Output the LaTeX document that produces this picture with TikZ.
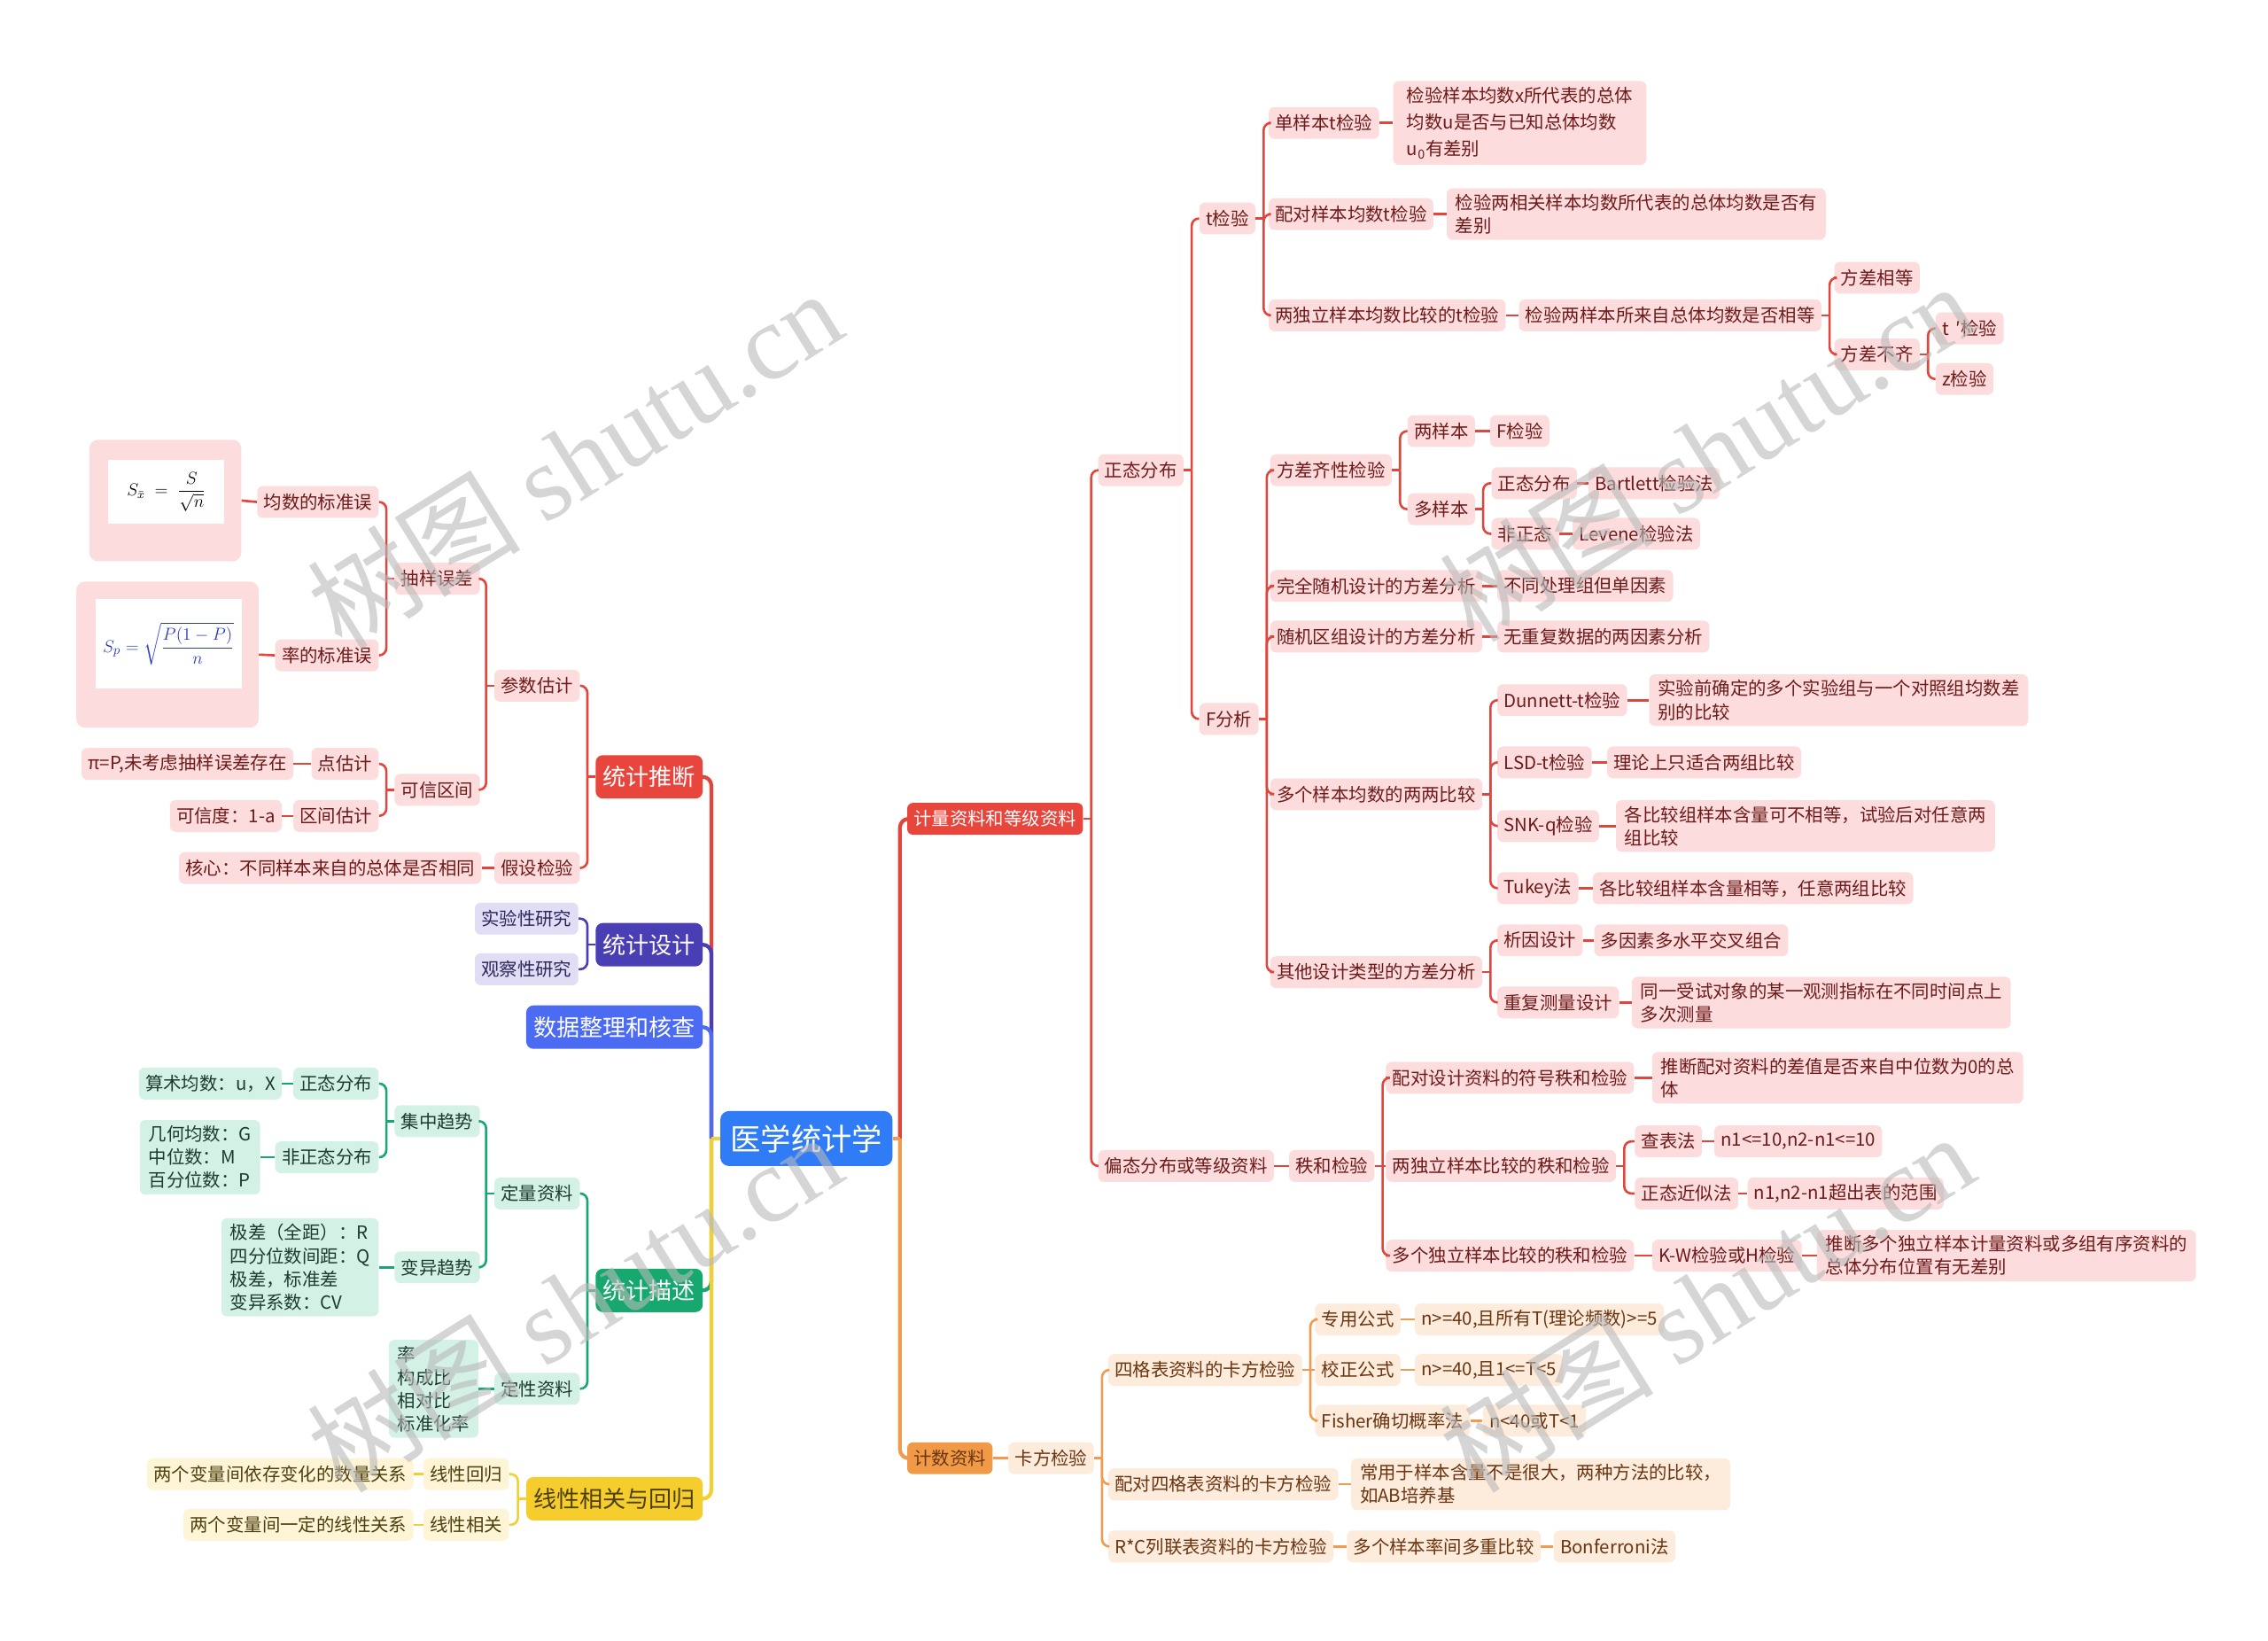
\documentclass[tikz,border=0pt]{standalone}
\usepackage{amsmath}
\usepackage{fontspec}
\setmainfont{Noto Sans CJK SC}
\newfontfamily\wmlat{Liberation Serif}
\definecolor{rootb}{HTML}{2F7CF6}
\definecolor{redl}{HTML}{E2453C}
\definecolor{redf}{HTML}{E8463D}
\definecolor{pinkf}{HTML}{FCDCDC}
\definecolor{redt}{HTML}{6E1A1A}
\definecolor{orl}{HTML}{EF9C50}
\definecolor{orf}{HTML}{F09A48}
\definecolor{orlf}{HTML}{FDEBDC}
\definecolor{ort}{HTML}{6A3510}
\definecolor{grl}{HTML}{18A774}
\definecolor{grf}{HTML}{16A86E}
\definecolor{grlf}{HTML}{D3F2E5}
\definecolor{grt}{HTML}{1D3B30}
\definecolor{yll}{HTML}{F2CF33}
\definecolor{ylf}{HTML}{F5CE2E}
\definecolor{yllf}{HTML}{FDF5D5}
\definecolor{ylt}{HTML}{4D3E0E}
\definecolor{vil}{HTML}{4A3EB4}
\definecolor{vilf}{HTML}{E0DDF5}
\definecolor{vit}{HTML}{2B275A}
\definecolor{bll}{HTML}{4B6BF2}
\definecolor{fblue}{HTML}{2A3BC4}
\tikzset{
  nbase/.style={rounded corners=4pt, inner xsep=4.5pt, inner ysep=2pt, minimum height=22pt, font=\fontsize{12.5}{16}\selectfont, align=left},
  multi/.style={inner xsep=6pt, inner ysep=4pt},
  rnode/.style={nbase, fill=pinkf, text=redt},
  onode/.style={nbase, fill=orlf, text=ort},
  gnode/.style={nbase, fill=grlf, text=grt},
  ynode/.style={nbase, fill=yllf, text=ylt},
  vnode/.style={nbase, fill=vilf, text=vit},
  lone/.style={rounded corners=5pt, inner xsep=5pt, minimum height=30pt, font=\fontsize{16}{19}\selectfont},
  rootnode/.style={rounded corners=6pt, inner xsep=7pt, minimum height=38pt, fill=rootb, text=white, font=\fontsize{21}{25}\selectfont},
  aw/.style={anchor=west},
  ae/.style={anchor=east},
  rline/.style={draw=redl, line width=1.6pt},
  oline/.style={draw=orl, line width=1.6pt},
  gline/.style={draw=grl, line width=1.6pt},
  yline/.style={draw=yll, line width=1.6pt},
  vline/.style={draw=vil, line width=1.6pt},
  bline/.style={draw=bll, line width=1.6pt},
  thickc/.style={line width=2.6pt},
  wmark/.style={rotate=32, text=gray!55, opacity=0.6, font=\fontsize{74}{74}\selectfont},
}
\newcommand\linkR[3]{%
  \coordinate (#2-s) at ([xshift=5.5pt]#2.east);
  \draw[#1] (#2.east) -- (#2-s);
  \foreach \c in {#3}{\draw[#1,rounded corners=5pt] (#2-s) |- (\c.west);}%
}
\newcommand\linkL[3]{%
  \coordinate (#2-s) at ([xshift=-5.5pt]#2.west);
  \draw[#1] (#2.west) -- (#2-s);
  \foreach \c in {#3}{\draw[#1,rounded corners=5pt] (#2-s) |- (\c.east);}%
}
\newcommand\linkS[3]{\draw[#1] (#2.east) -- (#3.west);}
\newcommand\linkSL[3]{\draw[#1] (#2.west) -- (#3.east);}
\begin{document}
\begin{tikzpicture}[x=1pt,y=-1pt]
\fill[white] (0,0) rectangle (1568,1134);
\useasboundingbox (0,0) rectangle (1568,1134);

% ---------- root ----------
\node[rootnode] (root) at (557.5,787) {医学统计学};

% ---------- right side ----------
\node[nbase, fill=redf, text=white, aw] (jl) at (627,566) {计量资料和等级资料};
\node[nbase, fill=orf, text=ort, aw] (js) at (627,1008) {计数资料};
\node[rnode,aw] (zt) at (759,325) {正态分布};
\node[rnode,aw] (pt) at (759,806) {偏态分布或等级资料};
\node[rnode,aw] (tj) at (829,151) {t检验};
\node[rnode,aw] (fa) at (829,497) {F分析};
\node[rnode,aw] (t1) at (877,85) {单样本t检验};
\node[rnode,multi,aw,minimum width=175pt,font=\fontsize{12.5}{18.5}\selectfont] (t1d) at (963,85) {检验样本均数x所代表的总体\\均数u是否与已知总体均数\\u\textsubscript{0}有差别};
\node[rnode,aw] (t2) at (877,148) {配对样本均数t检验};
\node[rnode,multi,aw,minimum width=257pt] (t2d) at (1000,148) {检验两相关样本均数所代表的总体均数是否有\\差别};
\node[rnode,aw] (t3) at (877,218) {两独立样本均数比较的t检验};
\node[rnode,aw] (t3d) at (1050,218) {检验两样本所来自总体均数是否相等};
\node[rnode,aw] (fc1) at (1268,192) {方差相等};
\node[rnode,aw] (fc2) at (1268,245) {方差不齐};
\node[rnode,aw] (tp) at (1338,227) {t \,′检验};
\node[rnode,aw] (zj) at (1338,262) {z检验};
\node[rnode,aw] (f1) at (878,325) {方差齐性检验};
\node[rnode,aw] (f1a) at (973,298) {两样本};
\node[rnode,aw] (f1aa) at (1030,298) {F检验};
\node[rnode,aw] (f1b) at (973,352) {多样本};
\node[rnode,aw] (f1b1) at (1031,334) {正态分布};
\node[rnode,aw] (bart) at (1098,334) {Bartlett检验法};
\node[rnode,aw] (f1b2) at (1031,369) {非正态};
\node[rnode,aw] (lev) at (1087,369) {Levene检验法};
\node[rnode,aw] (f2) at (878,405) {完全随机设计的方差分析};
\node[rnode,aw] (f2d) at (1035,405) {不同处理组但单因素};
\node[rnode,aw] (f3) at (878,440) {随机区组设计的方差分析};
\node[rnode,aw] (f3d) at (1035,440) {无重复数据的两因素分析};
\node[rnode,aw] (f4) at (878,549) {多个样本均数的两两比较};
\node[rnode,aw] (d1) at (1035,484) {Dunnett-t检验};
\node[rnode,multi,aw] (d1d) at (1140,484) {实验前确定的多个实验组与一个对照组均数差\\别的比较};
\node[rnode,aw] (d2) at (1035,527) {LSD-t检验};
\node[rnode,aw] (d2d) at (1111,527) {理论上只适合两组比较};
\node[rnode,aw] (d3) at (1035,571) {SNK-q检验};
\node[rnode,multi,aw] (d3d) at (1117,571) {各比较组样本含量可不相等，试验后对任意两\\组比较};
\node[rnode,aw] (d4) at (1035,614) {Tukey法};
\node[rnode,aw] (d4d) at (1101,614) {各比较组样本含量相等，任意两组比较};
\node[rnode,aw] (f5) at (878,672) {其他设计类型的方差分析};
\node[rnode,aw] (e1) at (1035,650) {析因设计};
\node[rnode,aw] (e1d) at (1102,650) {多因素多水平交叉组合};
\node[rnode,aw] (e2) at (1035,693) {重复测量设计};
\node[rnode,multi,aw] (e2d) at (1128,693) {同一受试对象的某一观测指标在不同时间点上\\多次测量};
\node[rnode,aw] (rh) at (891,806) {秩和检验};
\node[rnode,aw] (r1) at (958,745) {配对设计资料的符号秩和检验};
\node[rnode,multi,aw,minimum width=255pt] (r1d) at (1142,745) {推断配对资料的差值是否来自中位数为0的总\\体};
\node[rnode,aw] (r2) at (958,806) {两独立样本比较的秩和检验};
\node[rnode,aw] (r2a) at (1130,789) {查表法};
\node[rnode,aw] (r2ad) at (1185,789) {n1<=10,n2-n1<=10};
\node[rnode,aw] (r2b) at (1130,825) {正态近似法};
\node[rnode,aw] (r2bd) at (1208,825) {n1,n2-n1超出表的范围};
\node[rnode,aw] (r3) at (958,868) {多个独立样本比较的秩和检验};
\node[rnode,aw] (r3a) at (1142,868) {K-W检验或H检验};
\node[rnode,multi,aw] (r3d) at (1256,868) {推断多个独立样本计量资料或多组有序资料的\\总体分布位置有无差别};
\node[onode,aw] (kf) at (697,1008) {卡方检验};
\node[onode,aw] (k1) at (766,947) {四格表资料的卡方检验};
\node[onode,aw] (k1a) at (909,912) {专用公式};
\node[onode,aw] (k1ad) at (978,912) {n>=40,且所有T(理论频数)>=5};
\node[onode,aw] (k1b) at (909,947) {校正公式};
\node[onode,aw] (k1bd) at (978,947) {n>=40,且1<=T<5};
\node[onode,aw] (k1c) at (909,982) {Fisher确切概率法};
\node[onode,aw] (k1cd) at (1025,982) {n<40或T<1};
\node[onode,aw] (k2) at (766,1026) {配对四格表资料的卡方检验};
\node[onode,multi,aw] (k2d) at (934,1026) {常用于样本含量不是很大，两种方法的比较，\\如AB培养基};
\node[onode,aw] (k3) at (766,1069) {R*C列联表资料的卡方检验};
\node[onode,aw] (k3a) at (931,1069) {多个样本率间多重比较};
\node[onode,aw] (k3b) at (1074,1069) {Bonferroni法};

% ---------- left side ----------
\node[lone, fill=redf, text=white, ae] (tt) at (486,537) {统计推断};
\node[lone, fill=vil, text=white, ae] (tsj) at (486,653) {统计设计};
\node[lone, fill=bll, text=white, ae] (sj) at (486,710) {数据整理和核查};
\node[lone, fill=grf, text=white, ae] (tms) at (486,892) {统计描述};
\node[lone, fill=ylf, text=ylt, ae] (xx) at (486,1036) {线性相关与回归};
\node[rnode,ae] (cs) at (401,474) {参数估计};
\node[rnode,ae] (jy) at (401,600) {假设检验};
\node[rnode,ae] (jyd) at (333,600) {核心：不同样本来自的总体是否相同};
\node[rnode,ae] (cy) at (332,400) {抽样误差};
\node[rnode,ae] (kx) at (332,546) {可信区间};
\node[rnode,ae] (bz1) at (262,347) {均数的标准误};
\node[rnode,ae] (bz2) at (262,453) {率的标准误};
\node[fill=pinkf, rounded corners=6pt, minimum width=105pt, minimum height=84pt, ae, inner sep=0pt] (img1) at (167,346) {};
\node[fill=white, minimum width=80pt, minimum height=44pt, inner sep=0pt, font=\fontsize{12}{14}\selectfont] (fm1) at (115,340) {$\displaystyle S_{\bar x}\;=\;\frac{S}{\sqrt{n}}$};
\node[fill=pinkf, rounded corners=6pt, minimum width=126pt, minimum height=101pt, ae, inner sep=0pt] (img2) at (179,452.5) {};
\node[fill=white, minimum width=101pt, minimum height=62pt, inner sep=0pt, text=fblue, font=\fontsize{12.5}{15}\selectfont] (fm2) at (116.5,445) {$\displaystyle S_p=\sqrt{\frac{P(1-P)}{n}}$};
\node[rnode,ae] (dg) at (262,528) {点估计};
\node[rnode,ae] (dgd) at (203,528) {π=P,未考虑抽样误差存在};
\node[rnode,ae] (qg) at (262,564) {区间估计};
\node[rnode,ae] (qgd) at (195,564) {可信度：1-a};
\node[vnode,ae] (sy) at (400,635) {实验性研究};
\node[vnode,ae] (gc) at (400,670) {观察性研究};
\node[gnode,ae] (dl) at (401,825) {定量资料};
\node[gnode,ae] (dx) at (401,960) {定性资料};
\node[gnode,ae] (jz) at (332,775) {集中趋势};
\node[gnode,ae] (by) at (332,876) {变异趋势};
\node[gnode,ae] (zt2) at (262,749) {正态分布};
\node[gnode,ae] (zt2d) at (195,749) {算术均数：u，X};
\node[gnode,ae] (fz) at (262,800) {非正态分布};
\node[gnode,multi,ae] (fzd) at (180,800) {几何均数：G\\中位数：M\\百分位数：P};
\node[gnode,multi,ae] (byd) at (262,876) {极差（全距）：R\\四分位数间距：Q\\极差，标准差\\变异系数：CV};
\node[gnode,multi,ae] (dxd) at (331,960) {率\\构成比\\相对比\\标准化率};
\node[ynode,ae] (xh) at (352,1019) {线性回归};
\node[ynode,ae] (xhd) at (286,1019) {两个变量间依存变化的数量关系};
\node[ynode,ae] (xg) at (352,1054) {线性相关};
\node[ynode,ae] (xgd) at (286,1054) {两个变量间一定的线性关系};

% ---------- root connectors ----------
\coordinate (rootR) at ([xshift=5pt]root.east);
\coordinate (rootL) at ([xshift=-6pt]root.west);
\draw[rline,thickc,rounded corners=6pt] (rootR) |- (jl.west);
\draw[oline,thickc,rounded corners=6pt] (rootR) |- (js.west);
\draw[oline,thickc] (root.east) -- (rootR);
\draw[rline,thickc,rounded corners=6pt] (rootL) |- (tt.east);
\draw[vline,thickc,rounded corners=6pt] (rootL) |- (tsj.east);
\draw[bline,thickc,rounded corners=6pt] (rootL) |- (sj.east);
\draw[gline,thickc,rounded corners=6pt] (rootL) |- (tms.east);
\draw[yline,thickc,rounded corners=6pt] (rootL) |- (xx.east);
\draw[yline,thickc] (root.west) -- (rootL);

% ---------- right connectors ----------
\linkR{rline}{jl}{zt,pt}
\linkR{rline}{zt}{tj,fa}
\linkR{rline}{tj}{t1,t2,t3}
\linkS{rline}{t1}{t1d}
\linkS{rline}{t2}{t2d}
\linkS{rline}{t3}{t3d}
\linkR{rline}{t3d}{fc1,fc2}
\linkR{rline}{fc2}{tp,zj}
\linkR{rline}{fa}{f1,f2,f3,f4,f5}
\linkR{rline}{f1}{f1a,f1b}
\linkS{rline}{f1a}{f1aa}
\linkR{rline}{f1b}{f1b1,f1b2}
\linkS{rline}{f1b1}{bart}
\linkS{rline}{f1b2}{lev}
\linkS{rline}{f2}{f2d}
\linkS{rline}{f3}{f3d}
\linkR{rline}{f4}{d1,d2,d3,d4}
\linkS{rline}{d1}{d1d}
\linkS{rline}{d2}{d2d}
\linkS{rline}{d3}{d3d}
\linkS{rline}{d4}{d4d}
\linkR{rline}{f5}{e1,e2}
\linkS{rline}{e1}{e1d}
\linkS{rline}{e2}{e2d}
\linkS{rline}{pt}{rh}
\linkR{rline}{rh}{r1,r3}
\linkS{rline}{rh}{r2}
\linkS{rline}{r1}{r1d}
\linkR{rline}{r2}{r2a,r2b}
\linkS{rline}{r2a}{r2ad}
\linkS{rline}{r2b}{r2bd}
\linkS{rline}{r3}{r3a}
\linkS{rline}{r3a}{r3d}
\linkS{oline}{js}{kf}
\linkR{oline}{kf}{k1,k2,k3}
\linkR{oline}{k1}{k1a,k1c}
\linkS{oline}{k1}{k1b}
\linkS{oline}{k1a}{k1ad}
\linkS{oline}{k1b}{k1bd}
\linkS{oline}{k1c}{k1cd}
\linkS{oline}{k2}{k2d}
\linkS{oline}{k3}{k3a}
\linkS{oline}{k3a}{k3b}

% ---------- left connectors ----------
\linkL{rline}{tt}{cs,jy}
\linkL{rline}{cs}{cy,kx}
\linkL{rline}{cy}{bz1,bz2}
\linkSL{rline}{bz1}{img1}
\linkSL{rline}{bz2}{img2}
\linkL{rline}{kx}{dg,qg}
\linkSL{rline}{dg}{dgd}
\linkSL{rline}{qg}{qgd}
\linkSL{rline}{jy}{jyd}
\linkL{vline}{tsj}{sy,gc}
\linkL{gline}{tms}{dl,dx}
\linkL{gline}{dl}{jz,by}
\linkL{gline}{jz}{zt2,fz}
\linkSL{gline}{zt2}{zt2d}
\linkSL{gline}{fz}{fzd}
\linkSL{gline}{by}{byd}
\linkSL{gline}{dx}{dxd}
\linkL{yline}{xx}{xh,xg}
\linkSL{yline}{xh}{xhd}
\linkSL{yline}{xg}{xgd}

% ---------- watermarks ----------
\node[wmark] (wm1) at (397,317) {树图 {\wmlat shutu.cn}};
\node[wmark] (wm2) at (397,900) {树图 {\wmlat shutu.cn}};
\node[wmark] (wm3) at (1180,312) {树图 {\wmlat shutu.cn}};
\node[wmark] (wm4) at (1180,900) {树图 {\wmlat shutu.cn}};
\end{tikzpicture}
\end{document}
